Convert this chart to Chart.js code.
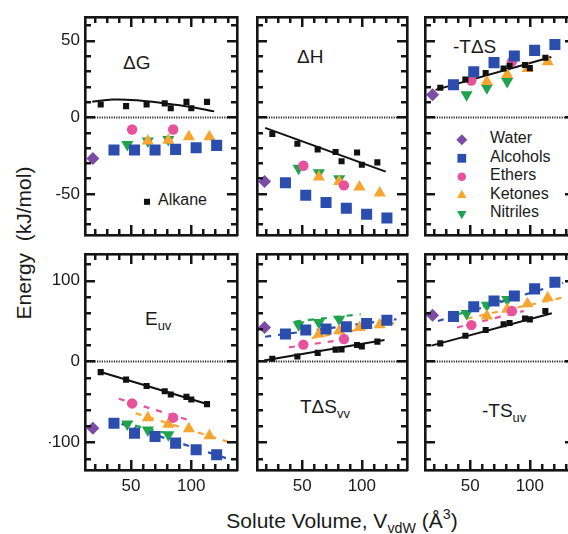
<!DOCTYPE html>
<html>
  <head>
    <meta charset="UTF-8">
    <title>Solvation energy components vs solute volume</title>
    <script src="https://cdn.jsdelivr.net/npm/chart.js@4.4.1/dist/chart.umd.min.js"></script>
    <style>
      html, body { margin: 0; padding: 0; background: #fff; overflow: hidden; }
      body { width: 568px; height: 534px; position: relative; font-family: "Liberation Sans", Arial, Helvetica, sans-serif; color: #1a1a1a; }
      canvas { position: absolute; }
      .lbl { position: absolute; font-size: 19px; line-height: 1; white-space: nowrap; transform: translateY(-50%); }
      .sub { font-size: 0.68em; position: relative; top: 0.38em; }
      .leg { position: absolute; font-size: 16px; line-height: 1; white-space: nowrap; transform: translateY(-50%); }
      #ylab { position: absolute; left: 24px; top: 243px; font-size: 21px; white-space: nowrap; transform: translate(-50%, -50%) rotate(-90deg); }
      #xlab { position: absolute; left: 342px; top: 521px; font-size: 21px; white-space: nowrap; transform: translate(-50%, -50%); }
      #xlab .s { font-size: 0.68em; position: relative; top: 0.35em; }
      #xlab .p { font-size: 0.68em; position: relative; top: -0.6em; }
    </style>
  </head>
  <body>
    <div class="lbl" style="left:123px;top:62px">ΔG</div>
    <div class="lbl" style="left:297px;top:56px">ΔH</div>
    <div class="lbl" style="left:453px;top:46px">-TΔS</div>
    <div class="lbl" style="left:145px;top:318px">E<span class="sub">uv</span></div>
    <div class="lbl" style="left:300px;top:406px">TΔS<span class="sub">vv</span></div>
    <div class="lbl" style="left:482px;top:410px">-TS<span class="sub">uv</span></div>

    <div class="leg" style="left:158px;top:200px">Alkane</div>
    <div class="leg" style="left:490px;top:138px">Water</div>
    <div class="leg" style="left:490px;top:157px">Alcohols</div>
    <div class="leg" style="left:490px;top:175px">Ethers</div>
    <div class="leg" style="left:490px;top:194px">Ketones</div>
    <div class="leg" style="left:490px;top:212px">Nitriles</div>

    <div id="ylab">Energy&nbsp; (kJ/mol)</div>
    <div id="xlab">Solute Volume, V<span class="s">vdW</span> (Å<span class="p">3</span>)</div>

    <script>
      // solute volumes (A^3) for each family
      const xWater = [18.5];
      const xAlcohols = [36, 53, 70, 87, 104, 121];
      const xEthers = [51, 85];
      const xKetones = [64, 81, 98, 115];
      const xNitriles = [47, 64, 81];
      const xAlkanes = [25, 46, 63, 78, 83, 96, 100, 113];

      const X_RANGE = [12, 138];
      const X_TICKS = [50, 100];
      const TOP_RANGE = [-77, 65.5];
      const TOP_TICKS = [-50, 0, 50];
      const BOT_RANGE = [-134, 133];
      const BOT_TICKS = [-100, 0, 100];

      // dG
      const dG_water = [-27];
      const dG_alcohols = [-21.4, -21.4, -21.4, -21, -20, -18.4];
      const dG_ethers = [-8, -8];
      const dG_ketones = [-15.6, -15, -12.8, -12.8];
      const dG_nitriles = [-17.8, -15.6, -14.6];
      const dG_alkanes = [8.3, 7.2, 8.3, 9, 5.8, 10, 5.8, 10];
      const dG_fitX = [18, 35, 55, 78, 100, 119];
      const dG_fitY = [10, 11.5, 11, 9, 6.6, 3.8];

      // dH
      const dH_water = [-42];
      const dH_alcohols = [-42.8, -50.9, -55.6, -59.4, -63.3, -65.8];
      const dH_ethers = [-31.7, -44.5];
      const dH_ketones = [-39.1, -41.9, -45.5, -49.4];
      const dH_nitriles = [-33.3, -36.3, -40.2];
      const dH_alkanes = [-11, -17.3, -21, -22.7, -28.8, -23, -31, -29.5];
      const dH_fitX = [19, 120];
      const dH_fitY = [-7, -35.5];

      // -TdS
      const TdS_water = [14.7];
      const TdS_alcohols = [21.2, 29.7, 35.6, 39.9, 43.6, 47.4];
      const TdS_ethers = [23.9, 36.3];
      const TdS_ketones = [23.3, 27.8, 31.8, 36.1];
      const TdS_nitriles = [14.7, 19.2, 23.3];
      const TdS_alkanes = [19.2, 24.6, 28.8, 31.8, 33.5, 34, 32, 38.8];
      const TdS_fitX = [21, 118];
      const TdS_fitY = [17.8, 39.3];

      // E_uv
      const Euv_water = [-82.4];
      const Euv_alcohols = [-76.3, -88.5, -92.6, -100.8, -108.9, -115.1];
      const Euv_ethers = [-51.8, -69.4];
      const Euv_ketones = [-69.4, -77.5, -83.2, -91.8];
      const Euv_nitriles = [-77.1, -84.5, -90.6];
      const Euv_alkanes = [-13.1, -22.4, -30.2, -36.7, -40.8, -43.7, -46.9, -52.6];
      const Euv_fitX = [25, 113];
      const Euv_fitY = [-13, -52.5];
      const Euv_dashX = [[32, 130], [40, 97], [54, 130], [43, 85]];
      const Euv_dashY = [[-72, -120], [-46, -72], [-64, -99], [-75.5, -90.6]];

      // T dS_vv
      const Svv_water = [42];
      const Svv_alcohols = [33.9, 38.8, 40, 42.8, 46.9, 51];
      const Svv_ethers = [20.8, 27.8];
      const Svv_ketones = [33.9, 37.9, 42, 45.3];
      const Svv_nitriles = [45.3, 48.1, 52.2];
      const Svv_alkanes = [3.3, 6.1, 10.6, 14.7, 15, 20.4, 18.5, 24.5];
      const Svv_fitX = [18, 119];
      const Svv_fitY = [1.2, 26.5];
      const Svv_dashX = [[19, 129], [39, 89], [58, 130], [44, 99]];
      const Svv_dashY = [[30.6, 52.2], [17.5, 27.8], [29, 48], [49.3, 58.4]];

      // -T S_uv
      const Suv_water = [57.2];
      const Suv_alcohols = [55.5, 67.7, 74.7, 80.8, 89.7, 97.9];
      const Suv_ethers = [44.9, 62.4];
      const Suv_ketones = [56.3, 64.5, 71.4, 78.7];
      const Suv_nitriles = [59.2, 69.4, 76.7];
      const Suv_alkanes = [22.4, 31.8, 38.8, 46.1, 47.5, 53, 52, 62.4];
      const Suv_fitX = [17.5, 118.4];
      const Suv_fitY = [19.6, 59.6];
      const Suv_dashX = [[23, 128], [39, 95], [47, 131], [40, 88]];
      const Suv_dashY = [[50, 97], [42, 62.4], [53, 80], [58.4, 80.8]];

      const GROUP_X = [xWater, xAlcohols, xEthers, xKetones, xNitriles];
      const GROUP_COLORS = ['#7b4ba6', '#2b4eae', '#e8519c', '#f6a530', '#1fa34d'];
      const GROUP_STYLE = [
        { pointStyle: 'rectRot', pointRadius: 6.5, pointRotation: 0 },
        { pointStyle: 'rect', pointRadius: 7.8, pointRotation: 0 },
        { pointStyle: 'circle', pointRadius: 5.2, pointRotation: 0 },
        { pointStyle: 'triangle', pointRadius: 7, pointRotation: 0 },
        { pointStyle: 'triangle', pointRadius: 7, pointRotation: 180 },
      ];
      // dashed fits are given for alcohols, ethers, ketones, nitriles
      const DASH_COLORS = ['#2b4eae', '#e8519c', '#f6a530', '#1fa34d'];

      const PANEL_X = [85, 255, 423];
      const PANEL_Y = [15, 252];
      const PANEL_W = 154;
      const PANEL_H = [222, 218];

      const FONT = '"Liberation Sans", Arial, Helvetica, sans-serif';

      function pts(xs, ys) {
        return xs.map((x, i) => ({ x: x, y: ys[i] }));
      }

      function framePlugin(row, legend) {
        const minorStep = row === 0 ? 10 : 20;
        const major = row === 0 ? 50 : 100;
        return {
          id: 'panelFrame',
          beforeDatasetsDraw(chart) {
            const { ctx, chartArea: a, scales } = chart;
            const y0 = Math.round(scales.y.getPixelForValue(0)) + 0.5;
            ctx.save();
            ctx.strokeStyle = '#2a2a2a';
            ctx.lineWidth = 2;
            ctx.setLineDash([1.2, 1.2]);
            ctx.beginPath();
            ctx.moveTo(a.left, y0);
            ctx.lineTo(a.right, y0);
            ctx.stroke();
            ctx.restore();
          },
          afterDraw(chart) {
            const { ctx, chartArea: a, scales } = chart;
            const L = Math.round(a.left), R = Math.round(a.right);
            const T = Math.round(a.top), B = Math.round(a.bottom);
            ctx.save();
            ctx.fillStyle = '#151515';
            // x ticks, pointing inward on top and bottom
            for (let v = 20; v <= 130; v += 10) {
              const px = Math.round(scales.x.getPixelForValue(v));
              const len = v % 50 === 0 ? 10 : 6;
              ctx.fillRect(px - 1, B - len, 2.5, len);
              ctx.fillRect(px - 1, T, 2.5, len);
            }
            // y ticks, pointing inward on left and right
            for (let v = Math.ceil(scales.y.min / minorStep) * minorStep; v <= scales.y.max; v += minorStep) {
              const py = Math.round(scales.y.getPixelForValue(v));
              const len = v % major === 0 ? 10 : 6;
              ctx.fillRect(L, py - 1, len, 2.5);
              ctx.fillRect(R - len, py - 1, len, 2.5);
            }
            // box
            ctx.fillRect(L - 1, T - 1, R - L + 2, 2.6);
            ctx.fillRect(L - 1, B - 1, R - L + 2, 2.6);
            ctx.fillRect(L - 1, T - 1, 2.6, B - T + 2);
            ctx.fillRect(R - 1, T - 1, 2.6, B - T + 2);
            // legend markers
            if (legend) {
              legend.forEach(item => {
                ctx.fillStyle = item.color;
                ctx.strokeStyle = item.color;
                Chart.helpers.drawPoint(ctx, {
                  pointStyle: item.style, radius: item.radius, rotation: item.rotation || 0, borderWidth: 0
                }, a.left + item.dx, a.top + item.dy);
              });
            }
            ctx.restore();
          }
        };
      }

      function makePanel(p) {
        const pad = 6;
        const padL = p.col === 0 ? 40 : pad;
        const padB = p.row === 1 ? 34 : pad;
        const w = PANEL_W + padL + pad;
        const h = PANEL_H[p.row] + pad + padB;
        const canvas = document.createElement('canvas');
        canvas.width = w;
        canvas.height = h;
        canvas.style.left = (PANEL_X[p.col] - padL) + 'px';
        canvas.style.top = (PANEL_Y[p.row] - pad) + 'px';
        canvas.style.width = w + 'px';
        canvas.style.height = h + 'px';
        document.body.appendChild(canvas);

        const datasets = [];
        datasets.push({
          data: pts(xAlkanes, p.alkanes),
          pointStyle: 'rect', pointRadius: 4.3, backgroundColor: '#111', borderWidth: 0
        });
        p.groups.forEach((vals, i) => {
          datasets.push(Object.assign({
            data: pts(GROUP_X[i], vals),
            backgroundColor: GROUP_COLORS[i], borderColor: GROUP_COLORS[i], borderWidth: 0
          }, GROUP_STYLE[i]));
        });
        datasets.push({
          data: pts(p.fitX, p.fitY), showLine: true, pointRadius: 0,
          borderColor: '#111', borderWidth: 2, tension: p.fitX.length > 2 ? 0.4 : 0
        });
        if (p.dashX) {
          p.dashX.forEach((xs, i) => {
            datasets.push({
              data: pts(xs, p.dashY[i]), showLine: true, pointRadius: 0,
              borderColor: DASH_COLORS[i], borderWidth: 2.2, borderDash: [6, 7]
            });
          });
        }

        const tickFont = { family: FONT, size: 17 };
        new Chart(canvas, {
          type: 'scatter',
          data: { datasets: datasets },
          plugins: [framePlugin(p.row, p.legend)],
          options: {
            responsive: false,
            animation: false,
            events: [],
            layout: { padding: { left: p.col === 0 ? 4 : pad, right: pad, top: pad, bottom: p.row === 1 ? 4 : pad } },
            plugins: { legend: { display: false }, tooltip: { enabled: false } },
            scales: {
              x: {
                type: 'linear', min: X_RANGE[0], max: X_RANGE[1], display: p.row === 1,
                grid: { display: false, drawTicks: false }, border: { display: false },
                ticks: { font: tickFont, color: '#1a1a1a', padding: 6, maxRotation: 0 },
                afterBuildTicks: s => { s.ticks = X_TICKS.map(v => ({ value: v })); },
                afterFit: s => {
                  if (p.row === 1) s.height = 30;
                  s.paddingLeft = 0; s.paddingRight = 0;
                }
              },
              y: {
                type: 'linear', min: p.range[0], max: p.range[1], display: p.col === 0,
                grid: { display: false, drawTicks: false }, border: { display: false },
                ticks: { font: tickFont, color: '#1a1a1a', padding: 5 },
                afterBuildTicks: s => { s.ticks = p.ticks.map(v => ({ value: v })); },
                afterFit: s => {
                  if (p.col === 0) s.width = 36;
                  s.paddingTop = 0; s.paddingBottom = 0;
                }
              }
            }
          }
        });
      }

      const panels = [
        { col: 0, row: 0, range: TOP_RANGE, ticks: TOP_TICKS,
          groups: [dG_water, dG_alcohols, dG_ethers, dG_ketones, dG_nitriles], alkanes: dG_alkanes,
          fitX: dG_fitX, fitY: dG_fitY,
          legend: [{ style: 'rect', radius: 4.3, color: '#111', dx: 62, dy: 185 }] },
        { col: 1, row: 0, range: TOP_RANGE, ticks: TOP_TICKS,
          groups: [dH_water, dH_alcohols, dH_ethers, dH_ketones, dH_nitriles], alkanes: dH_alkanes,
          fitX: dH_fitX, fitY: dH_fitY },
        { col: 2, row: 0, range: TOP_RANGE, ticks: TOP_TICKS,
          groups: [TdS_water, TdS_alcohols, TdS_ethers, TdS_ketones, TdS_nitriles], alkanes: TdS_alkanes,
          fitX: TdS_fitX, fitY: TdS_fitY,
          legend: [
            { style: 'rectRot', radius: 5.5, color: GROUP_COLORS[0], dx: 37, dy: 123 },
            { style: 'rect', radius: 6.2, color: GROUP_COLORS[1], dx: 37, dy: 141.5 },
            { style: 'circle', radius: 4.3, color: GROUP_COLORS[2], dx: 37, dy: 160 },
            { style: 'triangle', radius: 5.5, color: GROUP_COLORS[3], dx: 37, dy: 178.5 },
            { style: 'triangle', radius: 5.5, rotation: 180, color: GROUP_COLORS[4], dx: 37, dy: 197 }
          ] },
        { col: 0, row: 1, range: BOT_RANGE, ticks: BOT_TICKS,
          groups: [Euv_water, Euv_alcohols, Euv_ethers, Euv_ketones, Euv_nitriles], alkanes: Euv_alkanes,
          fitX: Euv_fitX, fitY: Euv_fitY, dashX: Euv_dashX, dashY: Euv_dashY },
        { col: 1, row: 1, range: BOT_RANGE, ticks: BOT_TICKS,
          groups: [Svv_water, Svv_alcohols, Svv_ethers, Svv_ketones, Svv_nitriles], alkanes: Svv_alkanes,
          fitX: Svv_fitX, fitY: Svv_fitY, dashX: Svv_dashX, dashY: Svv_dashY },
        { col: 2, row: 1, range: BOT_RANGE, ticks: BOT_TICKS,
          groups: [Suv_water, Suv_alcohols, Suv_ethers, Suv_ketones, Suv_nitriles], alkanes: Suv_alkanes,
          fitX: Suv_fitX, fitY: Suv_fitY, dashX: Suv_dashX, dashY: Suv_dashY }
      ];

      panels.forEach(makePanel);
    </script>
  </body>
</html>
